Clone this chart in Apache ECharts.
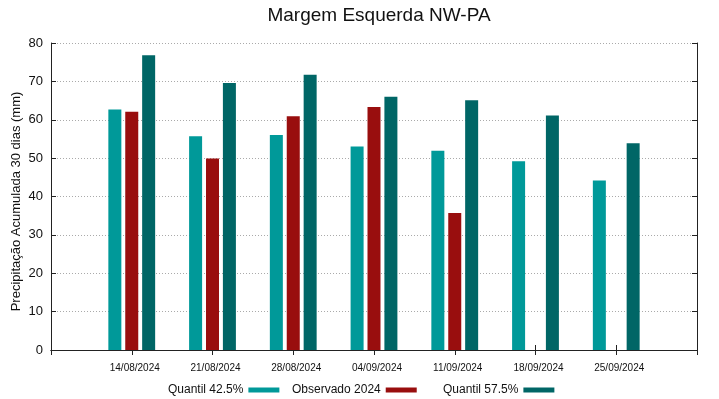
<!DOCTYPE html>
<html>
<head>
<meta charset="utf-8">
<script src="https://cdn.jsdelivr.net/npm/echarts@6/dist/echarts.min.js"></script>
<style>html,body{margin:0;padding:0;background:#fff;}#c{width:719px;height:399px;}</style>
</head>
<body>
<div id="c"></div>
<script>
var dates = ['14/08/2024','21/08/2024','28/08/2024','04/09/2024','11/09/2024','18/09/2024','25/09/2024'];
var q425 = [62.7, 55.7, 56.0, 53.0, 51.9, 49.2, 44.2];
var obs2024 = [62.1, 49.9, 60.9, 63.3, 35.7, null, null];
var q575 = [76.8, 69.6, 71.7, 66.0, 65.1, 61.1, 53.9];
var yTicks = [0, 10, 20, 30, 40, 50, 60, 70, 80];

var cats = [''].concat(dates).concat(['']);
function pad(a){ return [null].concat(a).concat([null]); }

var font = 'Liberation Sans, Arial, sans-serif';
var chart = echarts.init(document.getElementById('c'), null, {renderer:'canvas'});
var axLine = {show:true, lineStyle:{color:'#222', width:1}};
var legendBase = {top: 384, align:'right', itemWidth:31, itemHeight:5, icon:'rect', padding:0,
  textStyle:{fontFamily:font, fontSize:12, color:'#111'}};
chart.setOption({
  animation:false,
  backgroundColor:'#fff',
  title:{text:'Margem Esquerda NW-PA', left:374, textAlign:'center', top:1,
    textStyle:{fontFamily:font, fontSize:19, fontWeight:'normal', color:'#111'}},
  legend:[
    Object.assign({}, legendBase, {left:168, data:['Quantil 42.5%']}),
    Object.assign({}, legendBase, {left:292, data:['Observado 2024']}),
    Object.assign({}, legendBase, {left:443, data:['Quantil 57.5%']})
  ],
  grid:{left:51, right:22, top:43, bottom:49, containLabel:false, outerBoundsMode:'none'},
  xAxis:[
    {type:'category', data:cats, boundaryGap:false, position:'bottom',
     axisLine:axLine, axisTick:{show:true, inside:true, length:5, lineStyle:{color:'#222'}},
     axisLabel:{fontFamily:font, fontSize:10, color:'#111', margin:13, interval:0, padding:[0,0,0,6]},
     splitLine:{show:false}},
    {type:'category', data:cats, boundaryGap:false, position:'top',
     axisLine:axLine, axisTick:{show:true, inside:true, length:5, lineStyle:{color:'#222'}},
     axisLabel:{show:false}, splitLine:{show:false}}
  ],
  yAxis:[
    {type:'value', min:yTicks[0], max:yTicks[yTicks.length-1], interval:10, position:'left',
     name:'Precipitação Acumulada 30 dias (mm)', nameLocation:'middle', nameGap:28,
     nameMoveOverlap:false,
     nameTextStyle:{fontFamily:font, fontSize:13, color:'#111', padding:[0,10,0,0]},
     axisLine:axLine, axisTick:{show:true, inside:true, length:5, lineStyle:{color:'#222'}},
     axisLabel:{fontFamily:font, fontSize:13, color:'#111', margin:8},
     splitLine:{show:true, lineStyle:{color:'#aaa', type:[1,2], width:1}}},
    {type:'value', min:yTicks[0], max:yTicks[yTicks.length-1], interval:10, position:'right',
     axisLine:axLine, axisTick:{show:true, inside:true, length:5, lineStyle:{color:'#222'}},
     axisLabel:{show:false}, splitLine:{show:false}}
  ],
  series:[
    {name:'Quantil 42.5%', type:'bar', data:pad(q425), barWidth:13, barGap:'30%',
     itemStyle:{color:'#009999'}},
    {name:'Observado 2024', type:'bar', data:pad(obs2024), barWidth:13, barGap:'30%',
     itemStyle:{color:'#990e0e'}},
    {name:'Quantil 57.5%', type:'bar', data:pad(q575), barWidth:13, barGap:'30%',
     itemStyle:{color:'#006666'}}
  ]
});
</script>
</body>
</html>
